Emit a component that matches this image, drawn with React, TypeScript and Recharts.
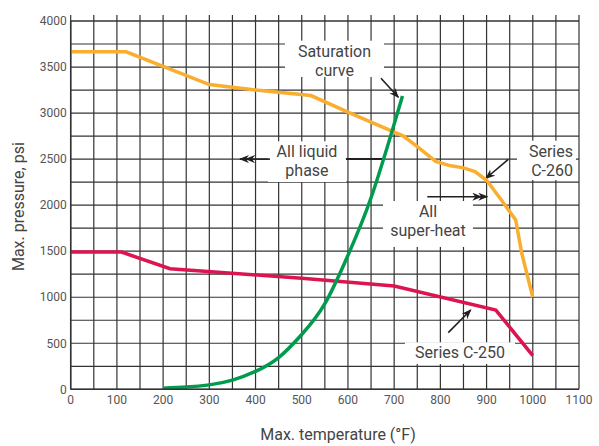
import {
  LineChart,
  Line,
  XAxis,
  YAxis,
  CartesianGrid,
  ReferenceArea,
  ReferenceLine,
} from 'recharts';

const tempTicks = [
  0, 50, 100, 150, 200, 250, 300, 350, 400, 450, 500, 550, 600, 650, 700, 750, 800, 850, 900, 950,
  1000, 1050, 1100,
];
const pressureTicks = [
  0, 250, 500, 750, 1000, 1250, 1500, 1750, 2000, 2250, 2500, 2750, 3000, 3250, 3500, 3750, 4000,
];

// Series C-260 (orange)
const c260Temp = [0, 120, 300, 400, 520, 600, 720, 750, 790, 820, 850, 875, 900, 930, 963, 976, 1000];
const c260Psi = [3665, 3665, 3310, 3250, 3190, 3010, 2750, 2635, 2475, 2430, 2405, 2365, 2270, 2070, 1840, 1480, 1000];

// Series C-250 (red)
const c250Temp = [0, 110, 215, 500, 700, 920, 1000];
const c250Psi = [1490, 1490, 1310, 1205, 1122, 860, 365];

// Saturation curve (green)
const satTemp = [200, 250, 300, 350, 400, 450, 500, 550, 600, 650, 700, 718];
const satPsi = [12, 24, 48, 100, 195, 345, 595, 930, 1455, 2080, 2880, 3185];

const toPoints = (t: number[], p: number[]) => t.map((temp, i) => ({ temp, psi: p[i] }));

const c260Data = toPoints(c260Temp, c260Psi);
const c250Data = toPoints(c250Temp, c250Psi);
const satData = toPoints(satTemp, satPsi);

const TEXT = '#444';
const GRID = '#333';
const ARROW = '#231f20';

const noteShape = (lines: string[], anchor: 'middle' | 'end' = 'middle') => (p: any) => {
  const tx = anchor === 'end' ? p.x + p.width - 3 : p.x + p.width / 2;
  return (
    <g>
      <rect x={p.x} y={p.y} width={p.width} height={p.height} fill="#fff" />
      <text x={tx} y={p.y + 16} textAnchor={anchor} fill={TEXT} fontSize={16} fontFamily="Roboto">
        {lines.map((l, i) => (
          <tspan key={i} x={tx} dy={i === 0 ? 0 : 19}>
            {l}
          </tspan>
        ))}
      </text>
    </g>
  );
};

const arrowShape = (marker?: string, width = 1.6) => (p: any) => (
  <line
    x1={p.x1}
    y1={p.y1}
    x2={p.x2}
    y2={p.y2}
    stroke={ARROW}
    strokeWidth={width}
    markerEnd={marker ? `url(#${marker})` : undefined}
  />
);

export default function App() {
  return (
    <div style={{ position: 'absolute', left: 0, top: 0, fontFamily: 'Roboto' }}>
      <svg width={0} height={0} style={{ position: 'absolute' }}>
        <defs>
          <marker
            id="arrowOne"
            viewBox="0 0 10 8"
            markerWidth={10}
            markerHeight={8}
            refX={9}
            refY={4}
            orient="auto"
            markerUnits="userSpaceOnUse"
          >
            <path d="M0,0 L10,4 L0,8 L3,4 Z" fill={ARROW} />
          </marker>
          <marker
            id="arrowTwo"
            viewBox="0 0 16 8"
            markerWidth={16}
            markerHeight={8}
            refX={15}
            refY={4}
            orient="auto"
            markerUnits="userSpaceOnUse"
          >
            <path d="M0,0 L10,4 L0,8 L3,4 Z M6,0 L16,4 L6,8 L9,4 Z" fill={ARROW} />
          </marker>
        </defs>
      </svg>
      <LineChart width={599} height={446} margin={{ top: 15, right: 20, bottom: 26.7, left: 10.7 }}>
        <CartesianGrid stroke={GRID} strokeWidth={1.2} />
        <XAxis
          xAxisId="top"
          orientation="top"
          type="number"
          dataKey="temp"
          domain={[0, 1100]}
          ticks={tempTicks}
          allowDataOverflow
          height={6}
          tickSize={6}
          tickFormatter={() => ''}
          tickLine={{ stroke: GRID, strokeWidth: 1.2 }}
          axisLine={{ stroke: GRID, strokeWidth: 1.2 }}
        />
        <XAxis
          type="number"
          dataKey="temp"
          domain={[0, 1100]}
          ticks={tempTicks}
          allowDataOverflow
          height={30}
          tickLine={false}
          tickSize={4}
          tickMargin={2}
          axisLine={{ stroke: GRID, strokeWidth: 1.5 }}
          tick={{ fontSize: 12, fill: '#555', fontFamily: 'Roboto' }}
          tickFormatter={(v: number) => (v % 100 === 0 ? String(v) : '')}
          interval={0}
        />
        <YAxis
          type="number"
          domain={[0, 4000]}
          ticks={pressureTicks}
          allowDataOverflow
          width={60}
          tickLine={false}
          tickSize={0}
          tickMargin={4}
          axisLine={{ stroke: GRID, strokeWidth: 1.5 }}
          tick={{ fontSize: 12, fill: '#555', fontFamily: 'Roboto' }}
          tickFormatter={(v: number) => (v % 500 === 0 ? String(v) : '')}
          interval={0}
          label={{
            content: (props: any) => {
              const vb = props.viewBox || { x: 10.7, y: 21, height: 368.3 };
              const cx = vb.x + 13.5;
              const cy = vb.y + vb.height / 2 + 1.5;
              return (
                <text
                  x={cx}
                  y={cy}
                  transform={`rotate(-90 ${cx} ${cy})`}
                  textAnchor="middle"
                  fill={TEXT}
                  fontSize={16}
                  fontFamily="Roboto"
                >
                  Max. pressure, psi
                </text>
              );
            },
          }}
        />

        <ReferenceArea x1={463.7} x2={678} y1={3392} y2={3786} ifOverflow="visible" shape={noteShape(['Saturation', 'curve'])} />
        <ReferenceArea x1={427} x2={595.7} y1={2251} y2={2693} ifOverflow="visible" shape={noteShape(['All liquid', 'phase'])} />
        <ReferenceArea x1={965.8} x2={1093.4} y1={2273} y2={2700} ifOverflow="visible" shape={noteShape(['Series', 'C-260'], 'end')} />
        <ReferenceArea x1={675.8} x2={870.6} y1={1546} y2={2045} ifOverflow="visible" shape={noteShape(['All', 'super-heat'])} />
        <ReferenceArea x1={723.4} x2={961.5} y1={275} y2={510} ifOverflow="visible" shape={noteShape(['Series C-250'])} />

        <ReferenceLine segment={[{ x: 671.5, y: 3378 }, { x: 709, y: 3171 }]} ifOverflow="visible" shape={arrowShape('arrowOne')} />
        <ReferenceLine segment={[{ x: 431.3, y: 2500 }, { x: 366.4, y: 2500 }]} ifOverflow="visible" shape={arrowShape('arrowTwo')} />
        <ReferenceLine segment={[{ x: 595.7, y: 2500 }, { x: 673.7, y: 2500 }]} ifOverflow="visible" shape={arrowShape(undefined, 2)} />
        <ReferenceLine segment={[{ x: 947, y: 2498 }, { x: 898.7, y: 2292 }]} ifOverflow="visible" shape={arrowShape('arrowOne')} />
        <ReferenceLine segment={[{ x: 771.7, y: 2092 }, { x: 901.5, y: 2092 }]} ifOverflow="visible" shape={arrowShape('arrowTwo')} />
        <ReferenceLine segment={[{ x: 817.1, y: 615 }, { x: 865.6, y: 861 }]} ifOverflow="visible" shape={arrowShape('arrowOne')} />

        <Line data={c250Data} dataKey="psi" type="linear" stroke="#dc1550" strokeWidth={3.5} dot={false} isAnimationActive={false} />
        <Line data={c260Data} dataKey="psi" type="linear" stroke="#f9ae2f" strokeWidth={3.5} dot={false} isAnimationActive={false} />
        <Line data={satData} dataKey="psi" type="natural" stroke="#009b4e" strokeWidth={3.5} dot={false} isAnimationActive={false} />
      </LineChart>
      <div
        style={{
          position: 'absolute',
          left: 0,
          top: 425,
          width: 676,
          textAlign: 'center',
          fontSize: 16,
          color: TEXT,
          fontFamily: 'Roboto',
        }}
      >
        Max. temperature (°F)
      </div>
    </div>
  );
}
